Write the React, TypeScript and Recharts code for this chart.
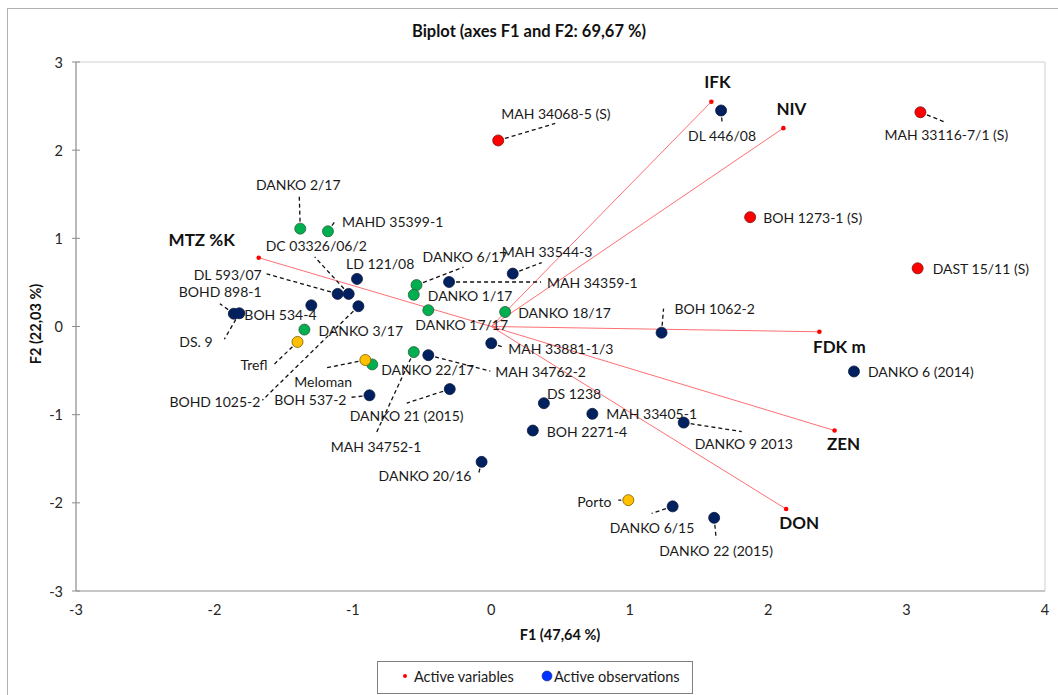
import { ScatterChart, Scatter, XAxis, YAxis, ReferenceLine, ReferenceArea } from 'recharts';

const FONT = 'Lato, "Open Sans", sans-serif';

// active variables (arrow tips)
const variableNames = ['IFK', 'NIV', 'MTZ %K', 'FDK m', 'ZEN', 'DON'];
const variableF1 = [1.59, 2.11, -1.68, 2.37, 2.48, 2.13];
const variableF2 = [2.55, 2.25, 0.78, -0.06, -1.18, -2.07];

// active observations
const obsNames = [
  'MAH 34068-5 (S)', 'MAH 33116-7/1 (S)', 'BOH 1273-1 (S)', 'DAST 15/11 (S)',
  'DL 446/08', 'LD 121/08', 'DL 593/07', 'DC 03326/06/2', 'BOHD 898-1', 'BOH 534-4',
  'DS. 9', 'BOHD 1025-2', 'BOH 537-2', 'DANKO 21 (2015)', 'MAH 34762-2', 'MAH 34359-1',
  'MAH 33544-3', 'MAH 33881-1/3', 'DS 1238', 'MAH 33405-1', 'BOH 2271-4', 'DANKO 9 2013',
  'BOH 1062-2', 'DANKO 6 (2014)', 'DANKO 20/16', 'DANKO 6/15', 'DANKO 22 (2015)',
  'DANKO 2/17', 'MAHD 35399-1', 'DANKO 6/17', 'DANKO 1/17', 'DANKO 17/17', 'DANKO 3/17',
  'DANKO 18/17', 'DANKO 22/17', 'MAH 34752-1',
  'Trefl', 'Meloman', 'Porto',
];
const obsF1 = [
  0.05, 3.10, 1.87, 3.08,
  1.66, -0.97, -1.11, -1.03, -1.86, -1.30,
  -1.82, -0.96, -0.88, -0.30, -0.455, -0.305,
  0.155, 0.0, 0.38, 0.73, 0.30, 1.39,
  1.23, 2.62, -0.07, 1.31, 1.61,
  -1.38, -1.18, -0.54, -0.56, -0.455, -1.35,
  0.10, -0.86, -0.56,
  -1.40, -0.91, 0.99,
];
const obsF2 = [
  2.11, 2.43, 1.24, 0.66,
  2.45, 0.54, 0.37, 0.37, 0.145, 0.24,
  0.15, 0.23, -0.78, -0.71, -0.325, 0.505,
  0.60, -0.19, -0.87, -0.99, -1.18, -1.09,
  -0.07, -0.51, -1.535, -2.04, -2.17,
  1.11, 1.08, 0.47, 0.36, 0.185, -0.035,
  0.165, -0.43, -0.29,
  -0.175, -0.38, -1.97,
];
const obsGroup = [
  'red', 'red', 'red', 'red',
  'navy', 'navy', 'navy', 'navy', 'navy', 'navy',
  'navy', 'navy', 'navy', 'navy', 'navy', 'navy',
  'navy', 'navy', 'navy', 'navy', 'navy', 'navy',
  'navy', 'navy', 'navy', 'navy', 'navy',
  'green', 'green', 'green', 'green', 'green', 'green',
  'green', 'green', 'green',
  'yellow', 'yellow', 'yellow',
];

const xTicks = [-3, -2, -1, 0, 1, 2, 3, 4];
const yTicks = [-3, -2, -1, 0, 1, 2, 3];

const groupStyle: Record<string, { fill: string; stroke: string }> = {
  red: { fill: '#ff0000', stroke: '#7a1010' },
  navy: { fill: '#002060', stroke: '#0d1a3a' },
  green: { fill: '#00b050', stroke: '#2a5e37' },
  yellow: { fill: '#ffc000', stroke: '#7a5c00' },
};

// label placement in px relative to point: dx, dy, anchor, leader end (lx, ly)
const labelLayout: Record<string, [number, number, string, number?, number?]> = {
  'MAH 34068-5 (S)': [3, -27, 'start', 57, -17],
  'MAH 33116-7/1 (S)': [-36, 22, 'start', 25, 10],
  'BOH 1273-1 (S)': [13, 0, 'start'],
  'DAST 15/11 (S)': [15, 0, 'start'],
  'DL 446/08': [1, 25, 'middle', 1, 12],
  'LD 121/08': [-11, -15, 'start'],
  'DL 593/07': [-76, -19, 'end', -71, -20],
  'DC 03326/06/2': [-83, -48, 'start', -34, -37],
  'BOHD 898-1': [-55, -22, 'start', -14, -10],
  'BOH 534-4': [-67, 9, 'start'],
  'DS. 9': [-60, 28, 'start', -15, 26],
  'BOHD 1025-2': [-189, 95, 'start', -96, 94],
  'BOH 537-2': [-23, 4, 'end', -18, 2],
  'DANKO 21 (2015)': [-100, 26, 'start', -43, 14],
  'MAH 34762-2': [67, 16, 'start', 62, 16],
  'MAH 34359-1': [98, 1, 'start', 92, 0],
  'MAH 33544-3': [-11, -22, 'start', 29, -11],
  'MAH 33881-1/3': [17, 5, 'start', 12, 4],
  'DS 1238': [3, -10, 'start'],
  'MAH 33405-1': [14, 0, 'start'],
  'BOH 2271-4': [14, 1, 'start'],
  'DANKO 9 2013': [11, 21, 'start', 58, 9],
  'BOH 1062-2': [13, -24, 'start', 2, -24],
  'DANKO 6 (2014)': [14, 0, 'start'],
  'DANKO 20/16': [-103, 14, 'start', -3, 12],
  'DANKO 6/15': [-63, 21, 'start', -21, 7],
  'DANKO 22 (2015)': [-55, 33, 'start', 2, 21],
  'DANKO 2/17': [-2, -44, 'middle', -1, -33],
  'MAHD 35399-1': [14, -10, 'start', 7, -10],
  'DANKO 6/17': [6, -29, 'start', 47, -18],
  'DANKO 1/17': [14, 1, 'start'],
  'DANKO 17/17': [-13, 14, 'start'],
  'DANKO 3/17': [14, 1, 'start'],
  'DANKO 18/17': [13, 1, 'start'],
  'DANKO 22/17': [9, 5, 'start'],
  'MAH 34752-1': [-83, 94, 'start', -38, 82],
  Trefl: [-57, 23, 'start', -23, 22],
  Meloman: [-71, 21, 'start', -40, 8],
  Porto: [-51, 1, 'start', -10, 0],
};

const variableLabel: Record<string, [number, number]> = {
  IFK: [6, -20],
  NIV: [8, -20],
  'MTZ %K': [-57, -18],
  'FDK m': [20, 15],
  ZEN: [9, 13],
  DON: [13, 13],
};

const observations = obsNames.map((name, i) => ({ name, x: obsF1[i], y: obsF2[i], group: obsGroup[i] }));
const variables = variableNames.map((name, i) => ({ name, x: variableF1[i], y: variableF2[i] }));

const ObsLabel = (props: any) => {
  const { cx, cy, payload } = props;
  const l = labelLayout[payload.name];
  if (!l) return <g />;
  const [dx, dy, anchor, lx, ly] = l;
  return (
    <g>
      {lx !== undefined && (
        <line x1={cx} y1={cy} x2={cx + lx} y2={cy + (ly ?? 0)} stroke="#111" strokeWidth={1.3} strokeDasharray="4 3" />
      )}
      <text x={cx + dx} y={cy + dy} textAnchor={anchor as any} dominantBaseline="central" fontFamily={FONT} fontSize={14} fill="#1a1a1a">
        {payload.name}
      </text>
    </g>
  );
};

const ObsDot = (props: any) => {
  const { cx, cy, payload } = props;
  const s = groupStyle[payload.group];
  return <circle cx={cx} cy={cy} r={5.5} fill={s.fill} stroke={s.stroke} strokeWidth={0.8} />;
};

const VarDot = (props: any) => {
  const { cx, cy, payload } = props;
  const [dx, dy] = variableLabel[payload.name];
  return (
    <g>
      <circle cx={cx} cy={cy} r={2.3} fill="#ff0000" />
      <text x={cx + dx} y={cy + dy} textAnchor="middle" dominantBaseline="central" fontFamily={FONT} fontSize={17} fontWeight={700} fill="#111">
        {payload.name}
      </text>
    </g>
  );
};

const YTick = (props: any) => {
  const { x, y, payload } = props;
  return (
    <g>
      <line x1={x + 9} x2={x + 17} y1={y} y2={y} stroke="#8c8c8c" />
      <text x={x} y={y} textAnchor="end" dominantBaseline="central" fontFamily={FONT} fontSize={14.5} fill="#262626">
        {payload.value}
      </text>
    </g>
  );
};

export default function App() {
  return (
    <div style={{ position: 'absolute', left: 0, top: 0, width: 1058, height: 695, background: '#fff', overflow: 'hidden' }}>
      <ScatterChart width={1058} height={695} margin={{ top: 62, right: 13, bottom: 74, left: 30 }}>
        <XAxis
          type="number"
          dataKey="x"
          domain={[-3, 4]}
          ticks={xTicks}
          allowDataOverflow
          height={30}
          tickSize={0}
          tickMargin={14}
          tickLine={false}
          axisLine={{ stroke: '#a6a6a6' }}
          tick={{ fontFamily: FONT, fontSize: 14.5, fill: '#262626' }}
        />
        <YAxis
          type="number"
          dataKey="y"
          domain={[-3, 3]}
          ticks={yTicks}
          allowDataOverflow
          width={46}
          tickSize={0}
          tickMargin={13}
          tickLine={false}
          axisLine={{ stroke: '#8c8c8c' }}
          tick={<YTick />}
        />
        <ReferenceArea x1={-3} x2={4} y1={-3} y2={3} fill="none" stroke="#d0d0d0" />
        {variables.map((v) => (
          <ReferenceLine
            key={v.name}
            segment={[{ x: 0, y: 0 }, { x: v.x, y: v.y }]}
            stroke="#ff6f73"
            strokeWidth={1}
          />
        ))}
        <Scatter data={observations} shape={<ObsLabel />} isAnimationActive={false} />
        <Scatter data={observations} shape={<ObsDot />} isAnimationActive={false} />
        <Scatter data={variables} shape={<VarDot />} isAnimationActive={false} />
      </ScatterChart>
      <svg width={1058} height={695} style={{ position: 'absolute', left: 0, top: 0, pointerEvents: 'none' }}>
        <rect x={7.5} y={8.5} width={1100} height={800} fill="none" stroke="#b0b0b0" />
        <text x={529} y={31} textAnchor="middle" dominantBaseline="central" fontFamily={FONT} fontSize={16.5} fontWeight={700} fill="#111">
          Biplot (axes F1 and F2: 69,67 %)
        </text>
        <text x={560} y={634} textAnchor="middle" dominantBaseline="central" fontFamily={FONT} fontSize={14.5} fontWeight={700} fill="#111">
          F1 (47,64 %)
        </text>
        <text
          x={35}
          y={324}
          textAnchor="middle"
          dominantBaseline="central"
          fontFamily={FONT}
          fontSize={14.5}
          fontWeight={700}
          fill="#111"
          transform="rotate(-90 35 324)"
        >
          F2 (22,03 %)
        </text>
        <rect x={377.5} y={661.5} width={315} height={32} fill="#fff" stroke="#7f7f7f" />
        <circle cx={405} cy={676} r={2} fill="#ff0000" />
        <text x={414} y={676} dominantBaseline="central" fontFamily={FONT} fontSize={14.5} fill="#1a1a1a">
          Active variables
        </text>
        <circle cx={547} cy={676} r={5} fill="#0033ff" stroke="#1a237e" strokeWidth={0.6} />
        <text x={554} y={676} dominantBaseline="central" fontFamily={FONT} fontSize={14.5} fill="#1a1a1a">
          Active observations
        </text>
      </svg>
    </div>
  );
}
